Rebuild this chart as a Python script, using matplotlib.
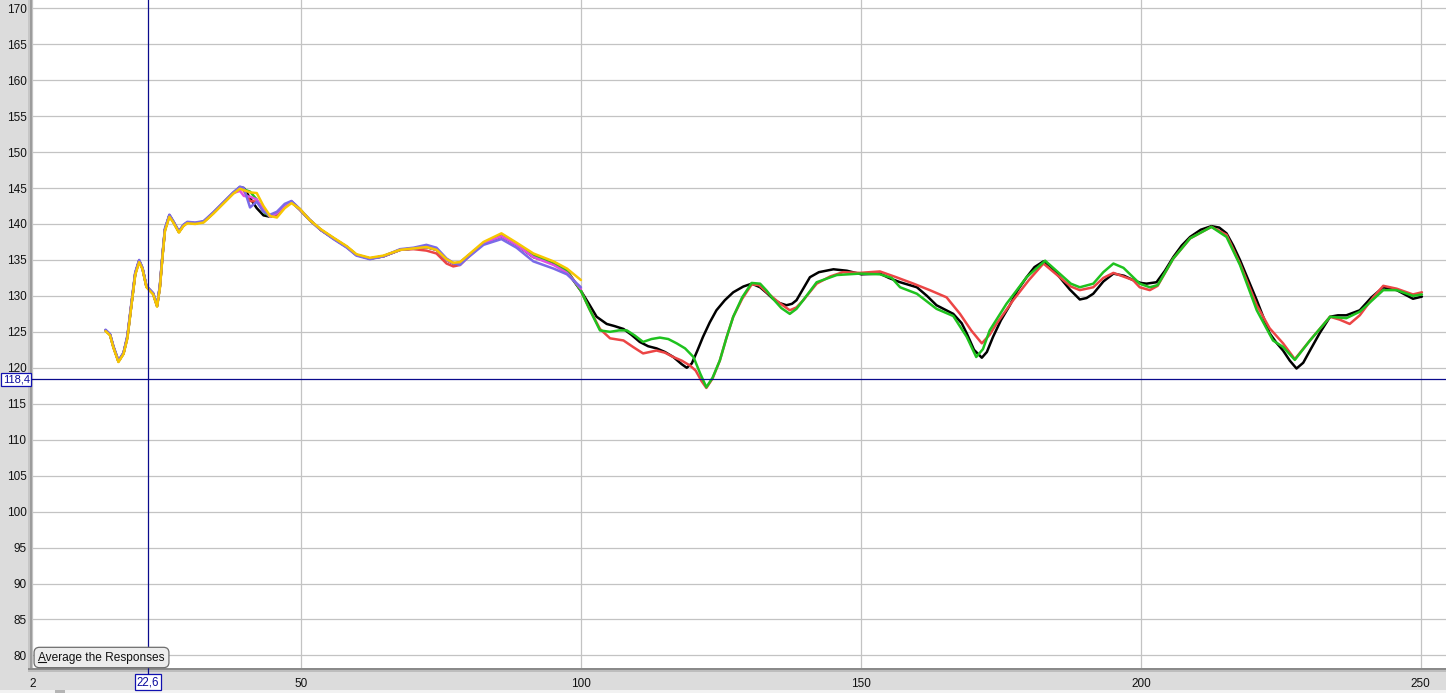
import matplotlib
matplotlib.use('Agg')
import matplotlib.pyplot as plt
from matplotlib.patches import Rectangle
from matplotlib.lines import Line2D
import matplotlib.transforms as mtransforms

plt.rcParams['font.family'] = ['Liberation Sans', 'DejaVu Sans']

# ---- data ----
x_early = [15.1, 15.9, 16.5, 17.4, 18.3, 19.0, 19.8, 20.4, 21.1, 21.7, 22.4, 23.0, 23.6, 24.3, 24.8,
           25.3, 25.7, 26.5, 27.2, 28.2, 29.0, 29.7, 31.1, 32.6, 34.3, 36.1, 37.9, 39.1, 39.8, 40.9,
           42.1, 43.3, 44.5, 45.7, 47.1, 48.3, 49.8, 51.5, 53.5, 55.8, 58.2, 59.9, 62.3, 64.7, 67.7,
           70.1, 72.4, 74.2, 76.0, 77.2, 78.4, 79.6, 82.6, 85.8, 88.5, 91.5, 95.1, 97.5, 100.0]

black_early = [125.2, 124.6, 122.9, 120.9, 122.0, 124.3, 129.4, 133.1, 134.9, 133.8, 131.3, 130.8, 130.3, 128.6, 131.3,
               135.9, 139.2, 141.2, 140.3, 138.9, 139.8, 140.2, 140.1, 140.3, 141.5, 142.9, 144.3, 145.1, 145.0, 143.6,
               142.2, 141.2, 141.0, 141.5, 142.6, 143.1, 142.0, 140.6, 139.2, 138.0, 136.8, 135.7, 135.2, 135.5, 136.4,
               136.6, 136.8, 136.4, 135.0, 134.5, 134.6, 135.4, 137.3, 138.3, 137.1, 135.4, 134.5, 133.4, 130.7]
red_early = [125.2, 124.6, 122.9, 120.9, 122.0, 124.3, 129.4, 133.1, 134.9, 133.8, 131.3, 130.8, 130.3, 128.6, 131.3,
             135.9, 139.2, 141.2, 140.3, 138.9, 139.8, 140.2, 140.1, 140.3, 141.5, 142.9, 144.3, 145.1, 144.6, 143.2,
             143.1, 142.2, 141.0, 141.3, 142.6, 143.1, 142.0, 140.6, 139.2, 138.0, 136.8, 135.7, 135.2, 135.5, 136.4,
             136.5, 136.3, 135.9, 134.5, 134.1, 134.3, 135.2, 137.3, 138.5, 137.1, 135.6, 134.7, 133.6, 130.7]
green_early = [125.2, 124.6, 122.9, 120.9, 122.0, 124.3, 129.4, 133.1, 134.9, 133.8, 131.3, 130.8, 130.3, 128.6, 131.3,
               135.9, 139.2, 141.2, 140.3, 138.9, 139.8, 140.2, 140.1, 140.3, 141.5, 142.9, 144.3, 145.1, 144.8, 144.5,
               143.4, 141.7, 141.0, 141.5, 142.6, 143.1, 142.0, 140.6, 139.2, 138.0, 136.8, 135.7, 135.2, 135.5, 136.4,
               136.6, 136.8, 136.4, 135.0, 134.5, 134.6, 135.4, 137.3, 138.3, 137.2, 135.6, 134.7, 133.5, 130.7]
magenta_early = [125.2, 124.6, 122.9, 120.9, 122.0, 124.3, 129.4, 133.1, 134.9, 133.8, 131.3, 130.8, 130.3, 128.6, 131.3,
                 135.9, 139.2, 141.2, 140.3, 138.9, 139.8, 140.2, 140.1, 140.3, 141.5, 142.9, 144.3, 144.6, 143.9, 143.8,
                 143.4, 142.0, 141.0, 141.5, 142.6, 143.1, 142.0, 140.6, 139.2, 138.0, 136.8, 135.7, 135.2, 135.5, 136.4,
                 136.6, 136.8, 136.4, 135.0, 134.5, 134.6, 135.4, 137.3, 138.3, 137.1, 135.4, 134.3, 133.2, 131.0]
purple_early = [125.3, 124.7, 123.0, 121.0, 122.1, 124.5, 129.6, 133.3, 135.0, 133.9, 131.4, 130.9, 130.4, 128.7, 131.5,
                136.1, 139.4, 141.3, 140.4, 139.0, 139.9, 140.3, 140.2, 140.4, 141.6, 143.0, 144.4, 145.2, 145.0, 142.3,
                143.1, 141.7, 141.3, 141.7, 142.8, 143.2, 142.1, 140.6, 139.2, 137.9, 136.7, 135.6, 135.1, 135.5, 136.5,
                136.7, 137.1, 136.7, 135.2, 134.6, 134.3, 135.2, 137.1, 137.9, 136.7, 134.8, 133.8, 133.0, 131.2]
yellow_early = [125.1, 124.5, 122.8, 120.8, 121.9, 124.1, 129.2, 132.9, 134.7, 133.7, 131.2, 130.7, 130.2, 128.5, 131.1,
                135.7, 139.0, 141.0, 140.2, 138.8, 139.7, 140.1, 140.0, 140.2, 141.4, 142.8, 144.2, 144.9, 144.7, 144.4,
                144.3, 142.5, 141.1, 140.9, 142.2, 142.9, 142.1, 140.6, 139.3, 138.1, 136.9, 135.8, 135.3, 135.6, 136.4,
                136.6, 136.8, 136.4, 135.1, 134.6, 134.7, 135.5, 137.5, 138.7, 137.4, 135.9, 134.8, 133.8, 132.2]

black_late_x = [101.5, 102.8, 104.6, 106.0, 107.6, 109.0, 110.5, 112.0, 113.5, 115.0, 116.5, 118.0, 118.9, 119.8,
                120.8, 121.8, 123.0, 124.2, 125.7, 127.2, 129.0, 130.5, 132.0, 133.2, 134.3, 135.5, 136.7, 137.7,
                138.5, 139.7, 140.9, 142.5, 145.1, 147.5, 150.1, 153.4, 155.0, 157.0, 160.0, 161.8, 163.5, 166.5,
                168.0, 168.9, 170.2, 171.6, 172.5, 173.6, 175.0, 176.6, 178.0, 179.6, 181.0, 182.6, 184.0, 185.5,
                187.3, 189.1, 190.3, 191.5, 193.3, 195.1, 197.0, 198.6, 200.0, 201.0, 202.8, 204.3, 205.8, 207.3,
                208.8, 210.7, 212.6, 214.0, 215.3, 216.5, 217.7, 219.2, 220.7, 221.9, 223.0, 224.2, 225.4, 226.6,
                227.8, 229.0, 230.2, 232.0, 233.8, 235.2, 236.7, 239.1, 241.2, 243.3, 245.7, 248.6, 250.2]
black_late = [128.8, 127.1, 126.1, 125.8, 125.4, 124.6, 123.6, 123.0, 122.7, 122.2, 121.5, 120.5, 120.0, 120.6,
              122.4, 124.3, 126.3, 128.0, 129.4, 130.5, 131.3, 131.7, 131.2, 130.4, 129.6, 129.0, 128.7, 128.9,
              129.4, 131.0, 132.6, 133.3, 133.7, 133.5, 133.0, 133.1, 132.5, 131.9, 131.2, 130.0, 128.7, 127.5,
              126.2, 124.8, 122.5, 121.4, 122.2, 124.3, 126.6, 128.7, 130.8, 132.6, 134.0, 134.8, 134.0, 132.6,
              130.9, 129.5, 129.7, 130.3, 132.0, 133.1, 132.8, 132.2, 131.8, 131.7, 131.9, 133.5, 135.4, 137.0,
              138.2, 139.2, 139.7, 139.5, 138.7, 137.0, 135.0, 132.2, 129.4, 127.0, 124.8, 123.5, 122.4, 121.0,
              119.9, 120.7, 122.4, 124.9, 127.1, 127.3, 127.3, 128.0, 129.8, 131.2, 130.8, 129.6, 129.9]

red_late_x = [101.5, 103.4, 105.2, 107.6, 109.3, 111.1, 112.3, 113.5, 115.0, 116.5, 118.0, 119.5, 120.5, 121.5,
              122.4, 123.5, 124.8, 126.0, 127.2, 128.8, 130.5, 131.8, 133.2, 135.3, 137.3, 138.5, 139.7, 142.1,
              144.5, 146.8, 149.8, 153.4, 156.3, 159.4, 162.3, 165.3, 167.7, 169.7, 171.6, 173.0, 174.2, 177.2,
              180.0, 182.6, 185.5, 187.5, 189.1, 191.5, 193.3, 195.1, 198.6, 199.8, 201.6, 203.0, 205.8, 208.8,
              212.6, 215.3, 217.7, 220.7, 223.0, 225.4, 227.5, 230.2, 233.8, 235.5, 237.3, 239.1, 241.5, 243.3,
              245.7, 248.6, 250.2]
red_late = [128.2, 125.4, 124.1, 123.8, 122.9, 122.0, 122.2, 122.4, 122.1, 121.5, 121.0, 120.3, 119.6, 118.2,
            117.2, 118.5, 121.0, 124.2, 127.1, 129.6, 131.6, 131.5, 130.5, 129.1, 128.0, 128.4, 129.4, 131.7,
            132.7, 133.3, 133.2, 133.4, 132.6, 131.7, 130.8, 129.8, 127.5, 125.2, 123.4, 124.6, 126.1, 129.4,
            132.2, 134.5, 132.6, 131.3, 130.8, 131.2, 132.5, 133.2, 132.2, 131.2, 130.8, 131.4, 135.2, 138.0,
            139.6, 138.5, 134.5, 128.7, 125.5, 123.4, 121.2, 123.8, 127.1, 126.7, 126.1, 127.3, 129.8, 131.4,
            131.0, 130.2, 130.5]

green_late_x = [101.5, 103.4, 105.2, 106.8, 108.2, 109.6, 111.1, 112.6, 114.1, 115.6, 117.1, 118.6, 120.1, 121.3,
                122.4, 123.5, 124.8, 126.0, 127.2, 128.8, 130.5, 132.0, 133.2, 134.3, 135.8, 137.3, 138.5, 139.7,
                142.1, 145.7, 149.8, 153.4, 155.5, 157.0, 160.0, 163.5, 166.5, 168.9, 170.6, 171.8, 173.0, 176.0,
                179.6, 182.9, 185.9, 187.5, 189.1, 191.5, 193.3, 195.1, 196.9, 198.6, 199.8, 201.6, 203.0, 205.8,
                208.8, 212.6, 215.3, 217.7, 220.7, 223.6, 225.4, 227.5, 230.2, 233.8, 236.7, 239.1, 243.3, 245.7,
                248.6, 250.2]
green_late = [128.2, 125.2, 125.0, 125.2, 125.2, 124.5, 123.6, 124.0, 124.2, 124.0, 123.4, 122.7, 121.5, 119.2,
              117.3, 118.6, 121.0, 124.2, 127.1, 129.8, 131.8, 131.7, 130.7, 129.6, 128.3, 127.5, 128.2, 129.4,
              131.9, 132.9, 133.1, 133.0, 132.5, 131.2, 130.3, 128.2, 127.2, 124.3, 121.5, 122.6, 125.2, 128.9,
              132.6, 134.9, 132.8, 131.7, 131.2, 131.7, 133.3, 134.5, 133.9, 132.6, 131.7, 131.2, 131.5, 135.2,
              138.0, 139.6, 138.2, 134.3, 128.0, 123.8, 122.9, 121.1, 123.8, 127.1, 126.9, 127.8, 130.8, 130.8,
              130.0, 130.2]

y_ticks = list(range(80, 171, 5))
x_ticks = [2, 50, 100, 150, 200, 250]
cursor_x = 22.6
cursor_y = 118.4

# ---- figure ----
W, H = 1446, 693
fig = plt.figure(figsize=(W / 100, H / 100), dpi=100, facecolor='#dcdcdc')
ax = fig.add_axes([32 / W, 25 / H, (W - 32) / W, 668 / H])
ax.set_facecolor('white')
ax.set_xlim(1.96, 254.5)
ax.set_ylim(78.25, 171.15)

for s in ax.spines.values():
    s.set_visible(False)
ax.set_yticks(y_ticks)
ax.set_xticks(x_ticks)
ax.set_xticklabels([str(v) for v in x_ticks])
ax.tick_params(length=0, labelsize=8.5, colors='#111111')
ax.tick_params(axis='y', pad=4)
ax.tick_params(axis='x', pad=7.5)
ax.grid(True, color='#c3c3c3', lw=0.9)
ax.set_axisbelow(True)

style = dict(lw=1.8, solid_joinstyle='round', solid_capstyle='round')
ax.plot(x_early + black_late_x, black_early + black_late, color='black', zorder=3, **style)
ax.plot(x_early + red_late_x, red_early + red_late, color='#ec4545', zorder=4, **style)
ax.plot(x_early + green_late_x, green_early + green_late, color='#1fc21f', zorder=5, **style)
ax.plot(x_early, magenta_early, color='#e050e0', zorder=6, **style)
ax.plot(x_early, purple_early, color='#7a6ae8', zorder=7, **style)
ax.plot(x_early, yellow_early, color='#f7c600', zorder=8, **style)

# panel shadows and bottom strip (behind the axes texts)
for (x0, y0, w, h, c) in [(28, 25, 2, 668, '#c6c6c6'), (30, 25, 2, 668, '#9c9c9c'),
                          (28, 23, 1418, 2, '#8a8a8a'), (28, 21, 1418, 2, '#bdbdbd'),
                          (0, 0, 1446, 3, '#f2f2f2'), (55, 0, 10, 3, '#b5b5b5')]:
    fig.add_artist(Rectangle((x0 / W, y0 / H), w / W, h / H, transform=fig.transFigure,
                             fc=c, ec='none', zorder=-1))

# cursor crosshair
ax.axhline(cursor_y, color='#0a0a8c', lw=0.9, zorder=9)
ax.axvline(cursor_x, color='#0a0a8c', lw=0.9, zorder=9)
bx = mtransforms.blended_transform_factory(ax.transData, ax.transAxes)
by = mtransforms.blended_transform_factory(ax.transAxes, ax.transData)
ax.add_line(Line2D([cursor_x, cursor_x], [0, -0.012], transform=bx, color='#0a0a8c', lw=0.9, clip_on=False))
ax.text(cursor_x, -0.021, '22,6', transform=bx, ha='center', va='center', fontsize=8.3, color='#0a0a9c',
        clip_on=False, zorder=10,
        bbox=dict(boxstyle='square,pad=0.15', fc='white', ec='#1010b0', lw=0.9))
ax.text(-0.0112, cursor_y, '118,4', transform=by, ha='center', va='center', fontsize=8.0, color='#0a0a9c',
        clip_on=False, zorder=10,
        bbox=dict(boxstyle='square,pad=0.12', fc='white', ec='#1010b0', lw=0.9))

# button
btn = fig.text(101.5 / W, 1 - 657.5 / H, 'Average the Responses', ha='center', va='center', fontsize=8.6,
               color='#111111', zorder=20,
               bbox=dict(boxstyle='round,pad=0.35,rounding_size=0.45', fc='#ececec', ec='#6e6e6e', lw=0.9))
fig.canvas.draw()
r = fig.canvas.get_renderer()
bb = btn.get_window_extent(r)
probe = fig.text(0, 0, 'A', fontsize=8.6)
aw = probe.get_window_extent(r).width
probe.remove()
fig.add_artist(Line2D([bb.x0, bb.x0 + aw], [bb.y0 + 1.5, bb.y0 + 1.5], transform=None,
                      color='#111111', lw=0.8, zorder=21))

fig.savefig('out.png', dpi=100, facecolor=fig.get_facecolor())
